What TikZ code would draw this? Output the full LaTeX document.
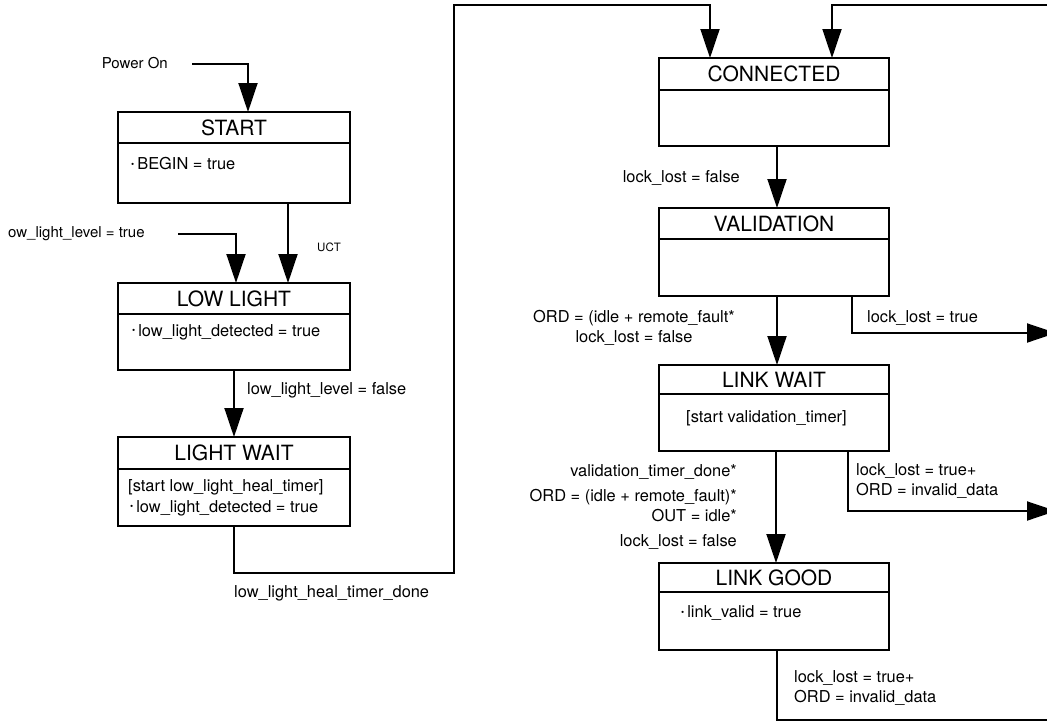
\documentclass[tikz,border=0pt]{standalone}
\usepackage{fontspec}
\setmainfont{TeX Gyre Heros}
\usetikzlibrary{arrows.meta,positioning}

\newcommand{\titlefont}{\fontsize{21}{22}\selectfont}
\newcommand{\lblfont}{\fontsize{16.4}{20.5}\selectfont}
\newcommand{\smallfont}{\fontsize{15}{18}\selectfont}
\newcommand{\bul}{\raisebox{2.5pt}{\fontsize{9}{9}\selectfont\textbullet}\hspace{3pt}}

\tikzset{
    statebox/.style={draw,rectangle,line width=1.9pt,inner sep=0pt,outer sep=0pt,anchor=north west},
    titletext/.style={font=\titlefont,inner sep=0pt},
    bodytext/.style={font=\lblfont,inner sep=0pt,anchor=west},
    lbltext/.style={font=\lblfont,inner sep=0pt},
    wire/.style={line width=1.9pt},
    trans/.style={line width=1.9pt,-{Triangle[length=29pt,width=19pt]}},
}

% name, top left corner, height, divider offset, width, title
\newcommand{\stbox}[6]{%
    \node[statebox,minimum width=#5,minimum height=#3] (#1) at #2 {};
    \draw[wire] ([yshift=-#4]#1.north west) -- ([yshift=-#4]#1.north east);
    \node[titletext] (#1-t) at ([yshift=-#4/2]#1.north) {#6};
}

\begin{document}
\begin{tikzpicture}[x=1pt,y=-1pt]
        \useasboundingbox (0,0) rectangle (1047,723);

        % left column
        \stbox{start}{(118,112)}{91pt}{31pt}{232pt}{START}
        \stbox{lowlight}{(118,283)}{87pt}{31pt}{232pt}{LOW LIGHT}
        \stbox{lightwait}{(118,437)}{89pt}{32pt}{232pt}{LIGHT WAIT}

        % right column
        \stbox{connected}{(659,58)}{88pt}{32pt}{230pt}{CONNECTED}
        \stbox{validation}{(659,208)}{88pt}{31pt}{230pt}{VALIDATION}
        \stbox{linkwait}{(659,365)}{86pt}{29pt}{230pt}{LINK WAIT}
        \stbox{linkgood}{(659,563)}{87pt}{29pt}{230pt}{LINK GOOD}

        % state contents
        \node[bodytext] (start-b) at (131,164) {\bul BEGIN = true};
        \node[bodytext] (lowlight-b) at (132,332) {\bul low\_light\_detected = true};
        \node[bodytext] (lightwait-a) at (128,487) {[start low\_light\_heal\_timer]};
        \node[bodytext] (lightwait-b) at (130,508) {\bul low\_light\_detected = true};
        \node[bodytext] (linkwait-a) at (686,418) {[start validation\_timer]};
        \node[bodytext] (linkgood-b) at (681,613) {\bul link\_valid = true};

        % transition labels
        \node[lbltext,font=\smallfont,anchor=east] (pwr) at (168,63) {Power On};
        \node[lbltext,font=\smallfont,anchor=west] (lowlvl) at (8,234) {ow\_light\_level = true};
        \node[lbltext,font=\fontsize{11.5}{13}\selectfont,anchor=west] (uct) at (317,247) {UCT};
        \node[lbltext,anchor=west] (lvlfalse) at (247,390) {low\_light\_level = false};
        \node[lbltext,anchor=west] (healdone) at (234,593) {low\_light\_heal\_timer\_done};
        \node[lbltext,anchor=east] (lockA) at (740,178) {lock\_lost = false};
        \node[lbltext,anchor=east,align=center] (lockB) at (735,328)
            {ORD = (idle + remote\_fault*\\lock\_lost = false};
        \node[lbltext,anchor=west] (lockC) at (867,318) {lock\_lost = true};
        \node[lbltext,anchor=east,align=right] (lockD) at (737,507)
            {validation\_timer\_done*\\[4.5pt]ORD = (idle + remote\_fault)*\\OUT = idle*\\[4.5pt]lock\_lost = false};
        \node[lbltext,anchor=west,align=left] (lockE) at (856,481) {lock\_lost = true+\\ORD = invalid\_data};
        \node[lbltext,anchor=west,align=left] (lockF) at (794,688) {lock\_lost = true+\\ORD = invalid\_data};

        % free ends
        \coordinate (pwr-in) at (192,64);
        \coordinate (low-in) at (178,234);
        \coordinate (ret-top) at (1050,5);
        \coordinate (exit-a) at (1056,333);
        \coordinate (exit-b) at (1056,511);
        \coordinate (exit-c) at (1050,720);

        % transitions
        \draw[trans] (pwr-in) -| ([xshift=14pt]start.north);
        \draw[trans] (low-in) -| ([xshift=2pt]lowlight.north);
        \draw[trans] ([xshift=54pt]start.south) -- ([xshift=54pt]lowlight.north);
        \draw[trans] (lowlight.south) -- (lightwait.north);
        \draw[trans] (lightwait.south) -- ++(0,47) -| (454,5) -| ([xshift=-64pt]connected.north);
        \draw[trans] (ret-top) -| ([xshift=58pt]connected.north);
        \draw[trans] ([xshift=3pt]connected.south) -- ([xshift=3pt]validation.north);
        \draw[trans] ([xshift=3pt]validation.south) -- ([xshift=3pt]linkwait.north);
        \draw[trans] ([xshift=2pt]linkwait.south) -- ([xshift=2pt]linkgood.north);
        \draw[trans] ([xshift=78pt]validation.south) |- (exit-a);
        \draw[trans] ([xshift=74pt]linkwait.south) |- (exit-b);
        \draw[wire] ([xshift=3pt]linkgood.south) |- (exit-c);
    \end{tikzpicture}
\end{document}
